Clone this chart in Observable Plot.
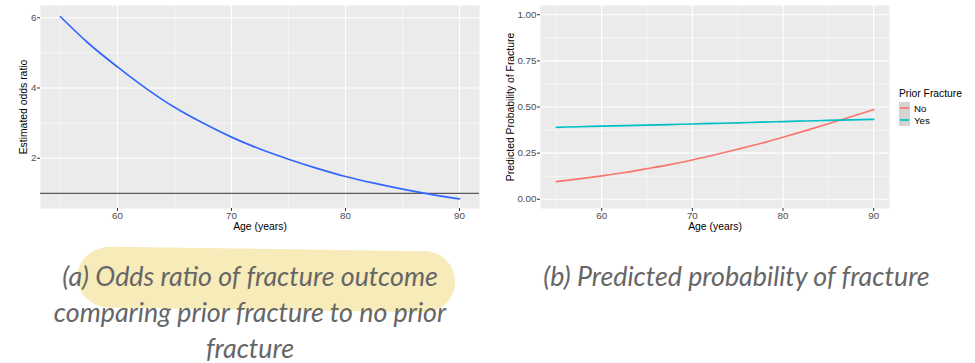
<!DOCTYPE html>
<html>
<head>
<meta charset="utf-8">
<script src="https://cdn.jsdelivr.net/npm/d3@7"></script>
<script src="https://cdn.jsdelivr.net/npm/@observablehq/plot@0.6"></script>
<style>
  html, body { margin: 0; padding: 0; background: #fff; }
  #wrap { position: relative; width: 975px; height: 363px; overflow: hidden; background: #fff; }
  .abs { position: absolute; }
  .cap { font-family: Lato, sans-serif; font-style: italic; color: #666; font-size: 26.8px; line-height: 36px; text-align: center; white-space: nowrap; }
  #legend { font-family: "Liberation Sans", Arial, sans-serif; }
</style>
</head>
<body>
<div id="wrap">
  <div class="abs" id="hl" style="left:77px;top:249px;width:378px;height:61px;background:#F7EBB9;border-radius:34px 30px 30px 34px / 30px 30px 30px 30px;transform:rotate(0.8deg);"></div>
  <div class="abs" id="left"></div>
  <div class="abs" id="right" style="left:490px;top:0;"></div>
  <div class="abs" id="legend" style="left:899px;top:87px;"></div>
  <div class="abs cap" id="capA" style="left:0;width:500px;top:258px;"></div>
  <div class="abs cap" id="capB" style="left:494px;width:485px;top:258px;"></div>
</div>
<script>
// ---- data ----
const ages = [55, 57.5, 60, 62.5, 65, 67.5, 70, 72.5, 75, 77.5, 80, 82.5, 85, 87.5, 90];
const oddsRatio = [6.03, 5.26, 4.60, 3.99, 3.45, 3.00, 2.60, 2.26, 1.97, 1.71, 1.48, 1.29, 1.12, 0.97, 0.84];
const probNo = [0.096, 0.111, 0.127, 0.145, 0.166, 0.188, 0.213, 0.241, 0.271, 0.302, 0.336, 0.372, 0.409, 0.447, 0.486];
const probYes = [0.390, 0.393, 0.396, 0.399, 0.402, 0.405, 0.408, 0.411, 0.414, 0.418, 0.421, 0.424, 0.427, 0.430, 0.433];
const priorFracture = ["No", "Yes"];
const groupColors = ["#F8766D", "#00BFC4"];
const xTicks = [60, 70, 80, 90];
const xMinor = [55, 65, 75, 85];
const orTicks = [2, 4, 6];
const orMinor = [1, 3, 5];
const probTicks = [0, 0.25, 0.5, 0.75, 1];
const probMinor = [0.125, 0.375, 0.625, 0.875];
const captionA = ["(a) Odds ratio of fracture outcome", "comparing prior fracture to no prior", "fracture"];
const captionB = ["(b) Predicted probability of fracture"];

const font = "'Liberation Sans', Arial, sans-serif";
const orData = ages.map((a, i) => ({age: a, or: oddsRatio[i]}));
const probData = [
  ...ages.map((a, i) => ({age: a, p: probNo[i], g: priorFracture[0]})),
  ...ages.map((a, i) => ({age: a, p: probYes[i], g: priorFracture[1]}))
];

function panelMarks(yTicks, yMinor, fmt, ylabel, ylabelDx) {
  return [
    Plot.frame({fill: "#EBEBEB", stroke: "none"}),
    Plot.ruleX(xMinor, {stroke: "#fff", strokeWidth: 0.55}),
    Plot.ruleY(yMinor, {stroke: "#fff", strokeWidth: 0.55}),
    Plot.ruleX(xTicks, {stroke: "#fff", strokeWidth: 1.1}),
    Plot.ruleY(yTicks, {stroke: "#fff", strokeWidth: 1.1}),
    Plot.axisX(xTicks, {tickSize: 3, tickPadding: 1, stroke: "#333", fill: "#4D4D4D", fontSize: 9.8, label: null}),
    Plot.axisY(yTicks, {tickSize: 3, tickPadding: 1, stroke: "#333", fill: "#4D4D4D", fontSize: 9.8, label: null, tickFormat: fmt}),
    Plot.text(["Age (years)"], {frameAnchor: "bottom", dy: 21.5, fontSize: 10.4, fill: "#000"}),
    Plot.text([ylabel], {frameAnchor: "left", textAnchor: "middle", dx: ylabelDx, rotate: -90, fontSize: 10.4, fill: "#000"})
  ];
}

const left = Plot.plot({
  width: 485, height: 236,
  marginLeft: 40, marginRight: 6, marginTop: 5, marginBottom: 28,
  style: {fontFamily: font, background: "transparent", overflow: "visible"},
  x: {domain: [53.25, 91.75]},
  y: {domain: [0.567, 6.35]},
  marks: [
    ...panelMarks(orTicks, orMinor, d3.format("d"), "Estimated odds ratio", -17),
    Plot.ruleY([1], {stroke: "#333", strokeWidth: 1}),
    Plot.line(orData, {x: "age", y: "or", stroke: "#3366FF", strokeWidth: 1.7, curve: "monotone-x"})
  ]
});
document.getElementById("left").appendChild(left);

const right = Plot.plot({
  width: 485, height: 236,
  marginLeft: 50, marginRight: 86, marginTop: 5, marginBottom: 28,
  style: {fontFamily: font, background: "transparent", overflow: "visible"},
  x: {domain: [53.25, 91.75]},
  y: {domain: [-0.05, 1.05]},
  color: {domain: priorFracture, range: groupColors},
  marks: [
    ...panelMarks(probTicks, probMinor, d3.format(".2f"), "Predicted Probability of Fracture", -30),
    Plot.line(probData, {x: "age", y: "p", stroke: "g", strokeWidth: 1.7, curve: "monotone-x"})
  ]
});
document.getElementById("right").appendChild(right);

// legend (ggplot style)
const lg = document.getElementById("legend");
const title = document.createElement("div");
title.textContent = "Prior Fracture";
title.style.cssText = "font-size:10.3px;color:#000;line-height:13px;margin-bottom:2px;";
lg.appendChild(title);
priorFracture.forEach((name, i) => {
  const row = document.createElement("div");
  row.style.cssText = "display:flex;align-items:center;height:12px;";
  const key = document.createElement("div");
  key.style.cssText = "width:11px;height:12px;background:#D4D4D4;position:relative;";
  const ln = document.createElement("div");
  ln.style.cssText = `position:absolute;left:1px;right:1px;top:5px;height:2px;background:${groupColors[i]};opacity:0.85;`;
  key.appendChild(ln);
  const lab = document.createElement("span");
  lab.textContent = name;
  lab.style.cssText = "font-size:9.7px;color:#000;margin-left:4px;";
  row.appendChild(key); row.appendChild(lab);
  lg.appendChild(row);
});

document.getElementById("capA").innerHTML = captionA.join("<br>");
document.getElementById("capB").innerHTML = captionB.join("<br>");
</script>
</body>
</html>
